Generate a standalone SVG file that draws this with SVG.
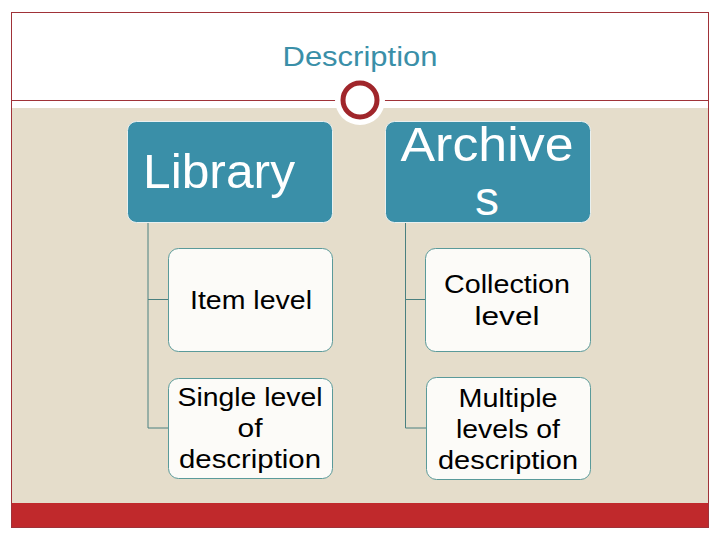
<svg xmlns="http://www.w3.org/2000/svg" width="720" height="540" viewBox="0 0 720 540">
<style>
.parent{fill:#3A8FA8;stroke:#E8F0F0;stroke-width:1}
.child{fill:#FCFBF8;stroke:#5A9A9A;stroke-width:1}
.pt{font-family:"Liberation Sans",Arial,sans-serif;font-size:48px;fill:#FFFFFF;text-anchor:middle}
.ct{font-family:"Liberation Sans",Arial,sans-serif;font-size:26px;fill:#000000;text-anchor:middle}
.conn{fill:none;stroke:#4A8080;stroke-width:1}
</style>
<rect x="0" y="0" width="720" height="540" fill="#FFFFFF"/>
<rect x="12" y="108" width="696" height="395" fill="#E5DDCB"/>
<rect x="12" y="503" width="696" height="24" fill="#C0292C"/>
<rect x="11.5" y="12.5" width="697" height="515" fill="none" stroke="#A03238" stroke-width="1"/>
<line x1="12" y1="100.5" x2="708" y2="100.5" stroke="#A03238" stroke-width="1"/>
<text x="360" y="66" font-family="'Liberation Sans',Arial,sans-serif" font-size="27" fill="#3A8FA8" text-anchor="middle" textLength="155" lengthAdjust="spacingAndGlyphs">Description</text>
<circle cx="360" cy="100" r="25" fill="#FFFFFF"/>
<circle cx="360" cy="100" r="17" fill="#FFFFFF" stroke="#A0262B" stroke-width="5"/>
<g id="connectors">
<path class="conn" d="M148 222 V428 H168 M148 299.5 H168"/>
<path class="conn" d="M405.5 222 V428 H426 M405.5 299.5 H425"/>
</g>
<g id="library">
<rect class="parent" x="127.5" y="121.5" width="205" height="101" rx="9"/>
<text class="pt" x="219" y="188" textLength="152" lengthAdjust="spacingAndGlyphs">Library</text>
</g>
<g id="archives">
<rect class="parent" x="385.5" y="121.5" width="205" height="101" rx="9"/>
<text class="pt" x="487" y="161" textLength="173" lengthAdjust="spacingAndGlyphs">Archive</text>
<text class="pt" x="487" y="215">s</text>
</g>
<g id="item-level">
<rect class="child" x="168.5" y="248.5" width="164" height="103" rx="10"/>
<text class="ct" x="251" y="309" textLength="122" lengthAdjust="spacingAndGlyphs">Item level</text>
</g>
<g id="collection-level">
<rect class="child" x="425.5" y="248.5" width="165" height="103" rx="10"/>
<text class="ct" x="507" y="293" textLength="126" lengthAdjust="spacingAndGlyphs">Collection</text>
<text class="ct" x="507" y="325" textLength="65" lengthAdjust="spacingAndGlyphs">level</text>
</g>
<g id="single-level">
<rect class="child" x="168.5" y="378.5" width="164" height="100" rx="10"/>
<text class="ct" x="250" y="406" textLength="145" lengthAdjust="spacingAndGlyphs">Single level</text>
<text class="ct" x="250" y="437" textLength="25" lengthAdjust="spacingAndGlyphs">of</text>
<text class="ct" x="250" y="468" textLength="142" lengthAdjust="spacingAndGlyphs">description</text>
</g>
<g id="multiple-levels">
<rect class="child" x="426.5" y="377.5" width="164" height="102" rx="10"/>
<text class="ct" x="508" y="407" textLength="99" lengthAdjust="spacingAndGlyphs">Multiple</text>
<text class="ct" x="508" y="438" textLength="104" lengthAdjust="spacingAndGlyphs">levels of</text>
<text class="ct" x="508" y="469" textLength="140" lengthAdjust="spacingAndGlyphs">description</text>
</g>
</svg>
